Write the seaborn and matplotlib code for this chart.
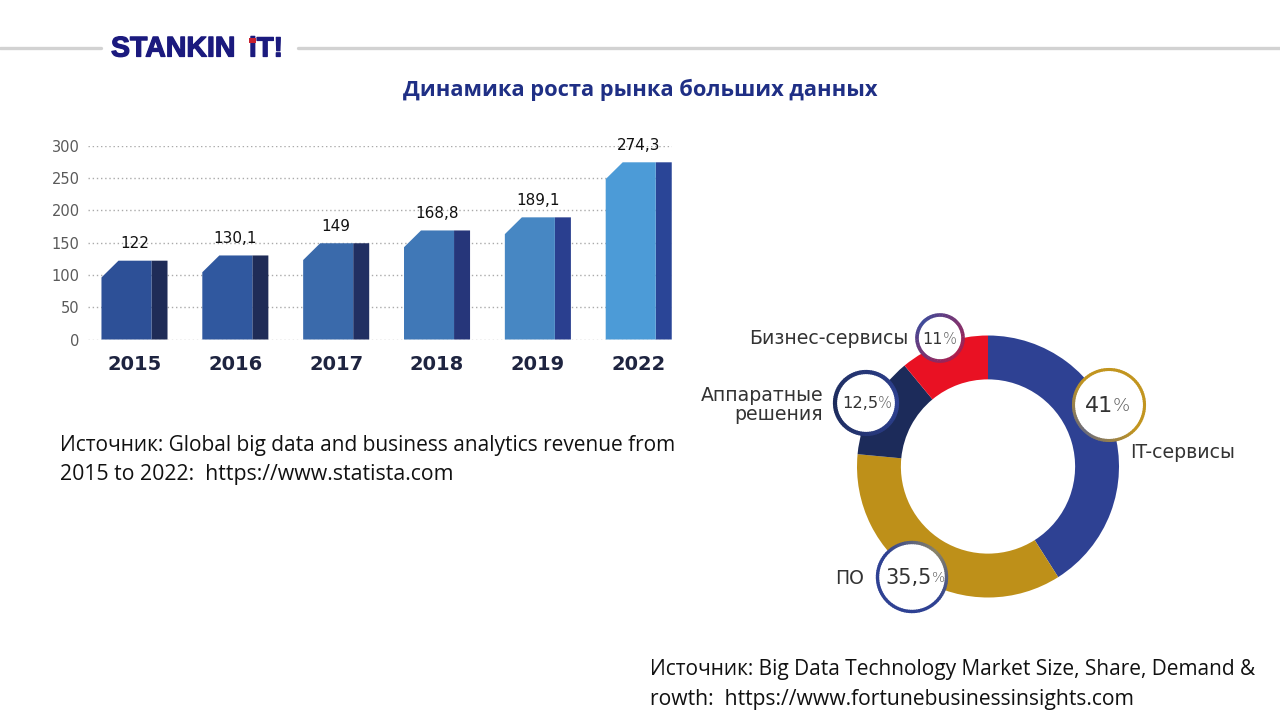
#!/usr/bin/env python3
"""Big data market growth slide: bar chart on the left, share donut on the right."""

import matplotlib

matplotlib.use("Agg")
import matplotlib.patheffects as pe
import matplotlib.pyplot as plt
import numpy as np
import pandas as pd
import seaborn as sns
from matplotlib.colors import LinearSegmentedColormap
from matplotlib.lines import Line2D
from matplotlib.patches import Circle, Polygon, Rectangle

YEARS = ["2015", "2016", "2017", "2018", "2019", "2022"]
REVENUE = [122, 130.1, 149, 168.8, 189.1, 274.3]
REVENUE_LABELS = ["122", "130,1", "149", "168,8", "189,1", "274,3"]
Y_TICKS = [0, 50, 100, 150, 200, 250, 300]

FRONT_COLORS = ["#2d5097", "#30589f", "#3a6aab", "#4078b7", "#4787c3", "#4c9bd7"]
SIDE_COLORS = ["#1f2c57", "#1f2c57", "#212f62", "#26367a", "#2a3f8f", "#2a4597"]

SEGMENTS = ["IT-сервисы", "ПО", "Аппаратные\nрешения", "Бизнес-сервисы"]
SHARES = [41, 35.5, 12.5, 11]
SHARE_LABELS = ["41", "35,5", "12,5", "11"]
SEGMENT_COLORS = ["#2e4193", "#be9019", "#1c2b5a", "#e91123"]

CHART_FONT = "DejaVu Sans"
NOTE_FONT = "Open Sans"
LABEL_SIZE = 13.6
W, H = 1280, 720


def px_axes(fig, left, top, right, bottom, **kwargs):
    return fig.add_axes(
        [left / W, 1 - bottom / H, (right - left) / W, (bottom - top) / H], **kwargs
    )


def draw_bars(fig):
    ax = px_axes(fig, 88, 145.7, 672, 339.5)
    df = pd.DataFrame({"year": YEARS, "revenue": REVENUE})
    sns.barplot(
        data=df, x="year", y="revenue", hue="year", palette=SIDE_COLORS,
        width=0.655, legend=False, saturation=1, linewidth=0, ax=ax, zorder=3,
    )
    sides = list(ax.patches)
    sns.barplot(
        data=df, x="year", y="revenue", hue="year", palette=FRONT_COLORS,
        width=0.655, legend=False, saturation=1, linewidth=0, ax=ax, zorder=4,
    )
    fronts = ax.patches[len(sides):]

    # the front face is narrower than the bar and has its top left corner cut off
    for patch, side in zip(fronts, sides):
        x0, full, h = patch.get_x(), patch.get_width(), patch.get_height()
        w = full * 50 / 66
        cut_x, cut_y = full * 17 / 66, 26
        outline = Polygon(
            [(x0, 0), (x0, h - cut_y), (x0 + cut_x, h), (x0 + w, h), (x0 + w, 0)],
            closed=True, facecolor=patch.get_facecolor(), edgecolor="none", zorder=4,
        )
        patch.set_visible(False)
        ax.add_patch(outline)
        side.set_x(x0 + w)
        side.set_width(full - w)
        side.set_snap(False)

    ax.set_xlim(-0.461, 5.33)
    ax.set_ylim(0, 300)
    ax.set_yticks(Y_TICKS)
    ax.set_facecolor("none")
    ax.set_xlabel("")
    ax.set_ylabel("")
    ax.grid(axis="y", color="#aaaaaa", linestyle=(0, (1, 2)), linewidth=1.0, zorder=1)
    ax.grid(axis="x", visible=False)
    ax.set_axisbelow(True)
    for spine in ax.spines.values():
        spine.set_visible(False)
    ax.tick_params(axis="y", length=0, pad=6, labelsize=10.5, labelcolor="#5a5a5a")
    ax.tick_params(axis="x", length=0, pad=11, labelcolor="#1e2440")
    for label in ax.get_xticklabels():
        label.set_fontsize(14)
        label.set_fontweight("bold")
    for i, (value, text) in enumerate(zip(REVENUE, REVENUE_LABELS)):
        ax.annotate(
            text, (i, value), xytext=(0, 7), textcoords="offset points",
            ha="center", va="bottom", fontsize=11, color="#111111", zorder=6,
            annotation_clip=False,
        )


def draw_donut(fig):
    ax = px_axes(fig, 857, 335.5, 1119, 597.5)
    ax.pie(
        SHARES, colors=SEGMENT_COLORS, startangle=90, counterclock=False, radius=1,
        wedgeprops={"width": 0.335, "linewidth": 0},
    )
    ax.set_xlim(-1, 1)
    ax.set_ylim(-1, 1)
    ax.set_aspect("equal")


def gradient_ring(ax, cx, cy, r, colors, start_deg, lw):
    # ring around a callout, built from short arcs so the colour can drift
    cmap = LinearSegmentedColormap.from_list("ring", colors)
    steps = 90
    angles = np.linspace(0, 2 * np.pi, steps + 1)
    for i in range(steps):
        t = 1 - abs(2 * i / steps - 1)
        a = np.linspace(angles[i], angles[i + 1] + 0.02, 4) + np.radians(start_deg)
        ax.plot(cx + r * np.cos(a), cy - r * np.sin(a), color=cmap(t), lw=lw,
                solid_capstyle="butt", zorder=6)


def draw_overlay(fig):
    ax = fig.add_axes([0, 0, 1, 1], facecolor="none")
    ax.set_xlim(0, W)
    ax.set_ylim(H, 0)
    ax.axis("off")

    # cx, cy, r, ring colours, ring start, label, size, % size, split offset, ring width
    callouts = [
        (1109, 405, 35.5, ["#c2951f", "#c2951f", "#6b6b7a"], 45, SHARE_LABELS[0], 16, 13, 4, 2.2),
        (912, 577, 34.5, ["#2e4193", "#2e4193", "#8a8468"], 225, SHARE_LABELS[1], 15, 10, 20, 2.4),
        (866, 403, 31, ["#1c2b5a", "#2e4193"], 180, SHARE_LABELS[2], 11.7, 10.5, 12, 3),
        (940, 338, 23, ["#3c4a9a", "#b01c4a"], 135, SHARE_LABELS[3], 11.5, 10.5, 3, 2.6),
    ]
    for cx, cy, r, colors, start, text, size, pct_size, split, lw in callouts:
        ax.add_patch(Circle((cx, cy), r, facecolor="white", edgecolor="none", zorder=5))
        gradient_ring(ax, cx, cy, r, colors, start, lw)
        ax.text(cx + split, cy + 1, text, ha="right", va="center", fontsize=size,
                color="#333333", zorder=7)
        ax.text(cx + split, cy + 1, "%", ha="left", va="center", fontsize=pct_size,
                color="#5a5a5a", fontweight="light", zorder=7)

    ax.text(1130, 452, SEGMENTS[0], ha="left", va="center", fontsize=LABEL_SIZE, color="#333333")
    ax.text(864, 578, SEGMENTS[1], ha="right", va="center", fontsize=LABEL_SIZE, color="#333333")
    ax.text(823, 405, SEGMENTS[2], ha="right", va="center", fontsize=LABEL_SIZE, color="#333333",
            linespacing=0.95, multialignment="right")
    ax.text(908, 338, SEGMENTS[3], ha="right", va="center", fontsize=LABEL_SIZE, color="#333333")

    ax.text(640, 90, "Динамика роста рынка больших данных", ha="center", va="center",
            fontsize=15.75, fontweight="bold", color="#1f2f85", family=NOTE_FONT)
    ax.text(60, 445.5, "Источник: Global big data and business analytics revenue from",
            ha="left", va="center", fontsize=15, color="#111111", family=NOTE_FONT)
    ax.text(60, 474.5, "2015 to 2022:  https://www.statista.com",
            ha="left", va="center", fontsize=15.3, color="#111111", family=NOTE_FONT)
    ax.text(650, 670, "Источник: Big Data Technology Market Size, Share, Demand &",
            ha="left", va="center", fontsize=15, color="#111111", family=NOTE_FONT)
    ax.text(650, 699, "rowth:  https://www.fortunebusinessinsights.com",
            ha="left", va="center", fontsize=15.2, color="#111111", family=NOTE_FONT)

    # header rule and logo
    for x0, x1 in [(0, 101), (298, 1280)]:
        ax.add_line(Line2D([x0, x1], [47.5, 47.5], color="#d2d2d2", lw=2.4))
    heavy = [pe.withStroke(linewidth=0.9, foreground="#1b1a7e")]
    ax.text(111, 49.5, "STANKIN", ha="left", va="center", fontsize=20.5, fontweight="bold",
            color="#1b1a7e", family="Liberation Sans", path_effects=heavy)
    ax.text(249, 49.5, "iT!", ha="left", va="center", fontsize=20, fontweight="bold",
            color="#1b1a7e", family="Liberation Sans", path_effects=heavy)
    ax.add_patch(Rectangle((249, 38), 7, 5, facecolor="#c8202f", edgecolor="none", zorder=4))


def main():
    sns.set_theme(style="white")
    plt.rcParams["font.family"] = [CHART_FONT]
    fig = plt.figure(figsize=(12.8, 7.2), dpi=100, facecolor="white")
    draw_bars(fig)
    draw_donut(fig)
    draw_overlay(fig)
    fig.savefig("out.png", dpi=100)
    plt.close(fig)


if __name__ == "__main__":
    main()
